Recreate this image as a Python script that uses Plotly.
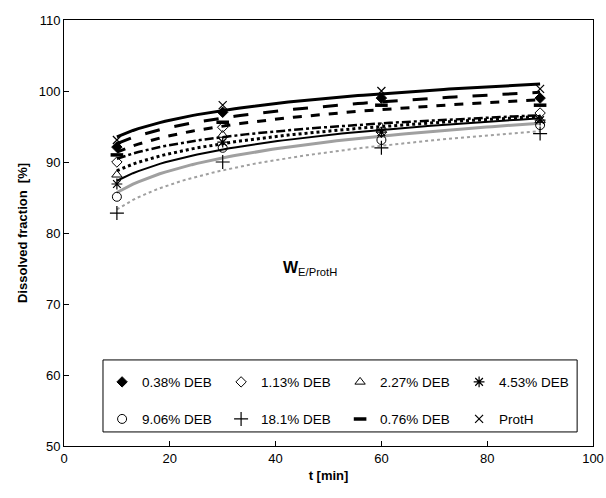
import numpy as np
import plotly.graph_objects as go

t = [10, 30, 60, 90]
series_names = ["0.38% DEB", "1.13% DEB", "2.27% DEB", "4.53% DEB",
                "9.06% DEB", "18.1% DEB", "0.76% DEB", "ProtH"]
v_038 = [92.1, 97.0, 99.0, 99.0]
v_113 = [90.0, 94.9, 94.2, 96.9]
v_227 = [88.2, 93.8, 94.9, 95.9]
v_453 = [86.9, 92.8, 94.2, 95.9]
v_906 = [85.1, 92.0, 93.1, 95.2]
v_181 = [82.8, 90.0, 92.0, 94.0]
v_076 = [91.0, 95.6, 98.0, 98.0]
v_proth = [93.1, 98.0, 100.0, 100.3]
values = [v_038, v_113, v_227, v_453, v_906, v_181, v_076, v_proth]

x_ticks = [0, 20, 40, 60, 80, 100]
y_ticks = [50, 60, 70, 80, 90, 100, 110]

symbols = ["diamond", "diamond-open", "triangle-up-open", "asterisk-open",
           "circle-open", "cross-thin-open", "line-ew-open", "x-thin-open"]
msizes = [8, 8, 9, 9, 9, 10, 9, 8]
mlw = [1, 1, 1, 1.2, 1, 1.2, 3.5, 1.2]
legend_ids = ["legend", "legend", "legend", "legend",
              "legend2", "legend2", "legend2", "legend2"]
trend_styles = [("longdash", 3, "black"), ("dashdot", 2.5, "black"),
                ("dot", 3, "black"), ("solid", 2, "black"),
                ("solid", 3, "#a0a0a0"), ("dot", 2, "#a0a0a0"),
                ("dash", 3, "black"), ("solid", 3, "black")]

fig = go.Figure()
tt = np.linspace(10, 90, 80)
for name, vals, (dash, w, col) in zip(series_names, values, trend_styles):
    b, a = np.polyfit(np.log(t), vals, 1)
    fig.add_trace(go.Scatter(x=tt, y=a + b * np.log(tt), mode="lines",
                             line=dict(color=col, width=w, dash=dash),
                             showlegend=False, hoverinfo="skip"))
for name, vals, sym, ms, lw, lg in zip(series_names, values, symbols, msizes, mlw, legend_ids):
    fig.add_trace(go.Scatter(x=t, y=vals, mode="markers", name=name, legend=lg,
                             marker=dict(symbol=sym, size=ms, color="black",
                                         line=dict(color="black", width=lw))))

fig.add_annotation(x=46.5, y=75, text="<b>W</b><sub>E/ProtH</sub>",
                   showarrow=False, font=dict(size=16, color="black",
                                               family="Liberation Sans, Arial"))

# legend frame
fig.add_shape(type="rect", xref="paper", yref="paper",
              x0=0.0737, x1=0.970, y0=0.033, y1=0.202,
              line=dict(color="black", width=1), fillcolor="white", layer="below")

axis_common = dict(showline=True, linecolor="black", linewidth=1, mirror=True,
                   ticks="inside", ticklen=5, tickcolor="black",
                   showgrid=False, zeroline=False, automargin=False,
                   tickfont=dict(size=13, color="black"))
fig.update_xaxes(range=[0, 100], tickvals=x_ticks,
                 title=dict(text="<b>t [min]</b>", font=dict(size=13, color="black"),
                            standoff=6), **axis_common)
fig.update_yaxes(range=[50, 110], tickvals=y_ticks,
                 title=dict(text="<b>Dissolved fraction  [%]</b>",
                            font=dict(size=13, color="black"), standoff=8),
                 **axis_common)

leg_common = dict(orientation="h", xanchor="left", yanchor="middle",
                  entrywidth=74, entrywidthmode="pixels", itemwidth=30,
                  borderwidth=0, bgcolor="rgba(0,0,0,0)",
                  font=dict(size=13.5, color="black"))
fig.update_layout(
    width=606, height=498,
    margin=dict(l=64, r=13, t=20, b=52),
    paper_bgcolor="white", plot_bgcolor="white",
    font=dict(family="Liberation Sans, Arial", color="black"),
    legend=dict(x=0.072, y=0.150, **leg_common),
    legend2=dict(x=0.072, y=0.063, **leg_common),
)

fig.write_html("out.html")
